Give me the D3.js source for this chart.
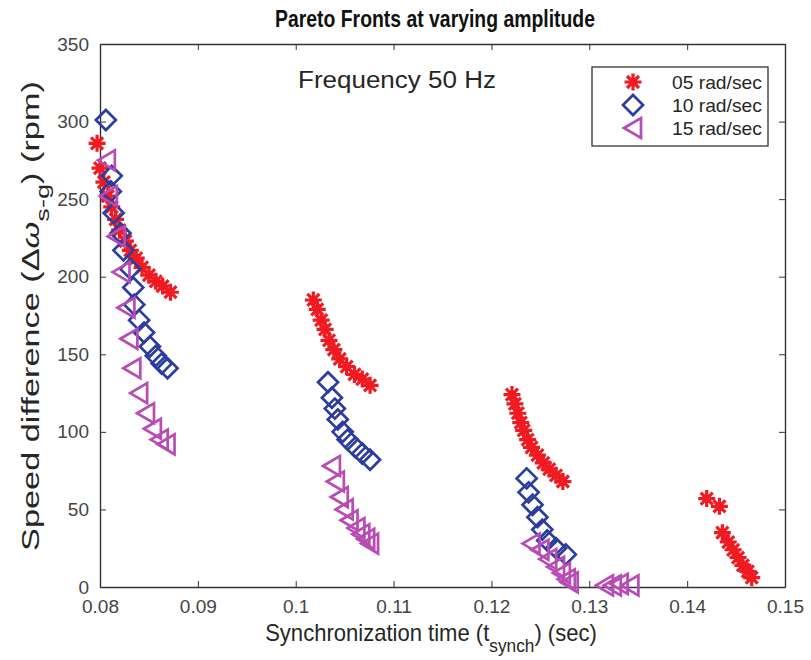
<!DOCTYPE html>
<html>
<head>
<meta charset="utf-8">
<script src="https://cdnjs.cloudflare.com/ajax/libs/d3/7.8.5/d3.min.js"></script>
<style>
	body{ margin:0; background:#fff; }
	svg{ font-family:"Liberation Sans", Arial, sans-serif; }
</style>
</head>
<body>
<svg id="chart" width="811" height="660"></svg>
<script>
	// ---- data ----
	var xTicks = [0.08, 0.09, 0.1, 0.11, 0.12, 0.13, 0.14, 0.15];
	var yTicks = [0, 50, 100, 150, 200, 250, 300, 350];
	var seriesNames = ["05 rad/sec", "10 rad/sec", "15 rad/sec"];

	// [sync time (sec), speed difference (rpm)]
	var amp05 = [
		[0.0797,286],[0.0800,270],[0.0804,261],[0.0808,252],[0.0812,245],[0.0816,237],[0.0820,230],
		[0.0826,223],[0.0831,217],[0.0837,212],[0.0843,206],[0.0850,201],[0.0857,197],[0.0864,194],[0.0872,190],
		[0.1018,185],[0.1022,179],[0.1026,172],[0.1030,166],[0.1034,159],[0.1039,153],[0.1045,147],
		[0.1052,142],[0.1060,137],[0.1068,134],[0.1076,130],
		[0.1221,124],[0.1224,118],[0.1227,112],[0.1230,106],[0.1233,101],[0.1237,95],[0.1241,90],
		[0.1247,85],[0.1253,80],[0.1259,76],[0.1266,72],[0.1273,68],
		[0.1420,57],[0.1433,52],[0.1436,35],[0.1442,29],[0.1447,24],[0.1452,19],[0.1457,14],[0.1462,10],[0.1466,6]
	];
	var amp10 = [
		[0.0806,301],[0.0812,265],[0.0811,255],[0.0814,241],[0.0821,228],[0.0824,217],[0.0831,205],
		[0.0834,193],[0.0835,182],[0.0840,172],[0.0845,164],[0.0851,155],[0.0857,149],[0.0863,144],[0.0869,141],
		[0.1033,132],[0.1037,122],[0.1040,115],[0.1043,108],[0.1048,100],[0.1053,95],[0.1061,90],[0.1068,86],[0.1076,82],
		[0.1236,70],[0.1238,61],[0.1242,53],[0.1247,45],[0.1252,37],[0.1257,30],[0.1266,25],[0.1276,21]
	];
	var amp15 = [
		[0.0807,275],[0.0809,252],[0.0817,226],[0.0822,203],[0.0827,180],[0.0830,160],[0.0833,141],
		[0.0840,125],[0.0847,112],[0.0854,102],[0.0861,95],[0.0868,92],
		[0.1037,78],[0.1041,68],[0.1045,58],[0.1050,50],[0.1055,43],[0.1062,38],[0.1067,34],[0.1072,31],[0.1076,28],
		[0.1241,28],[0.1250,24],[0.1258,18],[0.1266,13],[0.1272,9],[0.1277,5],[0.1280,3],
		[0.1316,1],[0.1324,1],[0.1331,2],[0.1342,1]
	];

	var WIDTH = 811, HEIGHT = 660;
	var margin = {top: 44, right: 26, bottom: 73, left: 100};
	var w = WIDTH - margin.left - margin.right,
		h = HEIGHT - margin.top - margin.bottom;

	var svg = d3.select("#chart");
	svg.append("rect").attr("width", WIDTH).attr("height", HEIGHT).attr("fill", "white");

	var g = svg.append("g").attr("transform", "translate(" + margin.left + "," + margin.top + ")");

	var x = d3.scaleLinear().domain([0.08, 0.15]).range([0, w]);
	var y = d3.scaleLinear().domain([0, 350]).range([h, 0]);

	// squeeze/stretch a text horizontally so it spans 'len' pixels (the picture's fonts are narrow)
	function fit(sel, px, py, len, rot){
		var natural = sel.node().getComputedTextLength();
		sel.attr("transform", "translate(" + px + "," + py + ")" + (rot ? " rotate(" + rot + ")" : "") +
			" scale(" + (len / natural) + ",1)");
	}

	// marker shapes (MATLAB style)
	var shapes = {
		star: "M-8.5,0L8.5,0M0,-8.5L0,8.5M-6,-6L6,6M-6,6L6,-6",
		diamond: "M0,-10L10,0L0,10L-10,0Z",
		triangle: "M-9,0L8,-10L8,10Z"
	};
	var series = [
		{name: seriesNames[0], data: amp05, color: "#ef1a22", shape: "star", width: 3.2},
		{name: seriesNames[1], data: amp10, color: "#2c3d9e", shape: "diamond", width: 2.7},
		{name: seriesNames[2], data: amp15, color: "#b84cb5", shape: "triangle", width: 2.7}
	];

	// axes (ticks inside, box all round)
	var tickColor = "#333";
	g.append("g").attr("transform", "translate(0," + h + ")")
		.call(d3.axisBottom(x).tickValues(xTicks).tickSizeInner(-6).tickSizeOuter(0).tickPadding(13)
			.tickFormat(function(d){ return String(+d.toFixed(2)); }));
	g.append("g")
		.call(d3.axisTop(x).tickValues(xTicks).tickSizeInner(-6).tickSizeOuter(0).tickFormat(""));
	g.append("g")
		.call(d3.axisLeft(y).tickValues(yTicks).tickSizeInner(-6).tickSizeOuter(0).tickPadding(11));
	g.append("g").attr("transform", "translate(" + w + ",0)")
		.call(d3.axisRight(y).tickValues(yTicks).tickSizeInner(-6).tickSizeOuter(0).tickFormat(""));

	g.selectAll(".domain").attr("stroke", tickColor).attr("stroke-width", 1.4);
	g.selectAll(".tick line").attr("stroke", tickColor);
	g.selectAll(".tick text").attr("fill", "#454545").style("font-size", "19px");

	// markers
	series.forEach(function(s){
		g.append("g").selectAll("path")
			.data(s.data)
			.enter().append("path")
			.attr("d", shapes[s.shape])
			.attr("transform", function(d){ return "translate(" + x(d[0]) + "," + y(d[1]) + ")"; })
			.attr("fill", "none")
			.attr("stroke", s.color)
			.attr("stroke-width", s.width);
	});

	// title & annotation
	var title = svg.append("text")
		.attr("text-anchor", "middle")
		.style("font-size", "23px").style("font-weight", "bold").attr("fill", "#111")
		.text("Pareto Fronts at varying amplitude");
	fit(title, 435, 27, 320);

	var freq = svg.append("text")
		.attr("text-anchor", "start")
		.style("font-size", "24px").attr("fill", "#262626")
		.text("Frequency 50 Hz");
	fit(freq, 298, 88, 198);

	// legend
	var legend = svg.append("g").attr("transform", "translate(592,67)");
	legend.append("rect")
		.attr("width", 176).attr("height", 79)
		.attr("fill", "white").attr("stroke", "#333").attr("stroke-width", 1.3);
	series.forEach(function(s, i){
		var row = legend.append("g").attr("transform", "translate(41," + (15 + i * 23) + ")");
		row.append("path").attr("d", shapes[s.shape])
			.attr("fill", "none").attr("stroke", s.color).attr("stroke-width", s.width);
		var t = row.append("text")
			.style("font-size", "18px").attr("fill", "#262626")
			.text(s.name);
		fit(t, 39, 6.5, 90);
	});

	// axis labels
	var xl = svg.append("text")
		.attr("text-anchor", "middle")
		.style("font-size", "23px").attr("fill", "#262626");
	xl.append("tspan").text("Synchronization time (t");
	xl.append("tspan").attr("dy", 11).style("font-size", "18px").text("synch");
	xl.append("tspan").attr("dy", -11).text(") (sec)");
	fit(xl, 431, 641, 332);

	var yl = svg.append("text")
		.attr("text-anchor", "middle")
		.style("font-size", "24px").attr("fill", "#262626");
	yl.append("tspan").text("Speed difference (Δ");
	yl.append("tspan").style("font-style", "italic").text("ω");
	yl.append("tspan").attr("dy", 10).style("font-size", "19px").text("s-g");
	yl.append("tspan").attr("dy", -10).text(") (rpm)");
	fit(yl, 39, 316, 470, -90);
</script>
</body>
</html>
